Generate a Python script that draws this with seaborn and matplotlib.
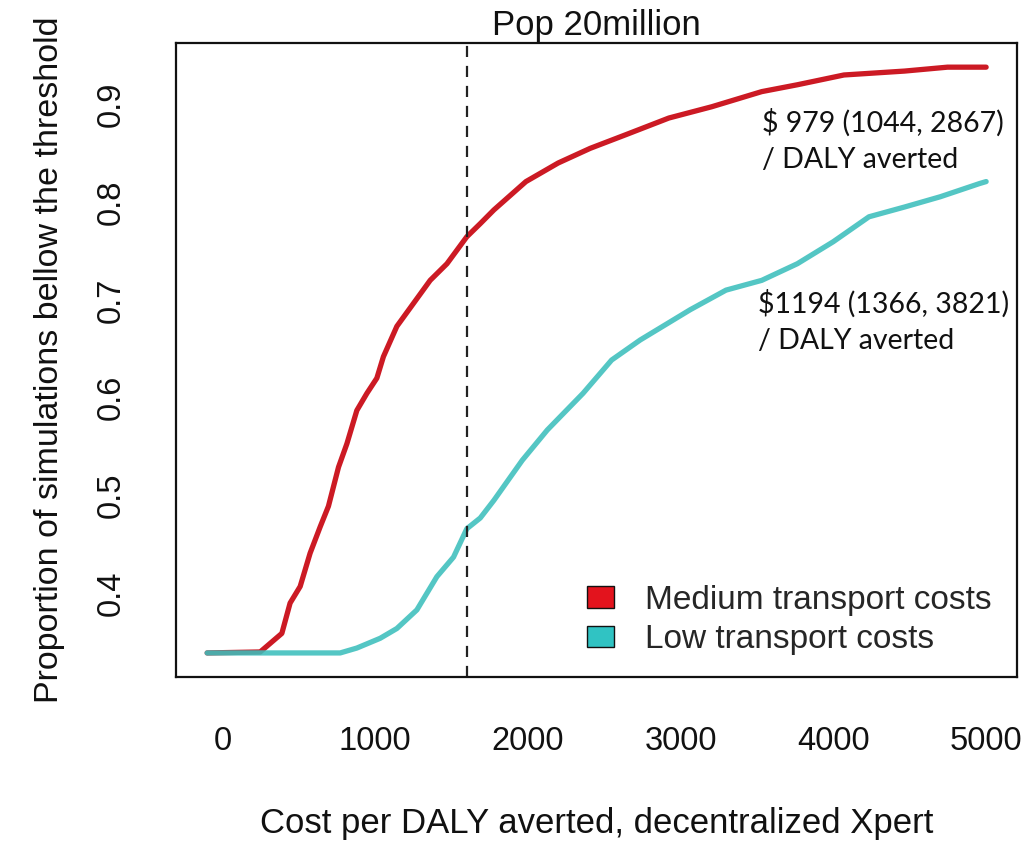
import matplotlib
matplotlib.use("Agg")
import matplotlib.pyplot as plt
from matplotlib.patches import Patch
import pandas as pd
import seaborn as sns

# Cost thresholds (USD per DALY averted) and proportion of simulations below each
cost_medium = [-100, 247, 389, 443, 509, 574, 640, 694, 760, 815, 880, 946, 1011,
               1054, 1142, 1251, 1360, 1470, 1600, 1688, 1777, 1987, 2198, 2408,
               2642, 2923, 3203, 3531, 3764, 4069, 4466, 4747, 5000]
prop_medium = [0.339, 0.340, 0.359, 0.390, 0.407, 0.441, 0.468, 0.489, 0.529,
               0.553, 0.587, 0.6045, 0.620, 0.642, 0.673, 0.6965, 0.720, 0.737,
               0.7646, 0.778, 0.792, 0.821, 0.840, 0.855, 0.869, 0.886, 0.8975,
               0.913, 0.920, 0.930, 0.934, 0.938, 0.938]

cost_low = [-100, 771, 880, 1033, 1142, 1273, 1404, 1513, 1600, 1688, 1777, 1963,
            2127, 2361, 2548, 2735, 3063, 3297, 3531, 3764, 3999, 4233, 4466,
            4700, 4957, 5000]
prop_low = [0.339, 0.339, 0.344, 0.354, 0.364, 0.383, 0.417, 0.437, 0.466, 0.477,
            0.495, 0.536, 0.567, 0.6045, 0.6385, 0.659, 0.690, 0.710, 0.720,
            0.737, 0.7595, 0.785, 0.795, 0.8055, 0.819, 0.821]

series_names = ["Medium transport costs", "Low transport costs"]
line_colors = ["#CC1A24", "#3CBFBC"]
legend_colors = ["#E3131D", "#30C3C3"]

threshold = 1600
x_ticks = [0, 1000, 2000, 3000, 4000, 5000]
y_ticks = [0.4, 0.5, 0.6, 0.7, 0.8, 0.9]

notes = ["$ 979 (1044, 2867)\n/ DALY averted", "$1194 (1366, 3821)\n/ DALY averted"]

df = pd.concat([
    pd.DataFrame({"cost": cost_medium, "prop": prop_medium, "scenario": series_names[0]}),
    pd.DataFrame({"cost": cost_low, "prop": prop_low, "scenario": series_names[1]}),
], ignore_index=True)

sns.set_style("white")
plt.rcParams["font.family"] = ["Liberation Sans", "DejaVu Sans"]

fig = plt.figure(figsize=(10.28, 8.43), dpi=100)
ax = fig.add_axes([176 / 1028, 1 - 676.7 / 843, (1017.3 - 176) / 1028, (676.7 - 43.3) / 843])

sns.lineplot(data=df[df.scenario == series_names[0]], x="cost", y="prop",
             color=line_colors[0], linewidth=3.8, ax=ax, legend=False,
             estimator=None, sort=False)
sns.lineplot(data=df[df.scenario == series_names[1]], x="cost", y="prop",
             color=line_colors[1], linewidth=3.8, alpha=0.88, ax=ax, legend=False,
             estimator=None, sort=False)

ax.axvline(threshold, color="#222222", linewidth=1.6, linestyle=(0, (5, 4)))

ax.set_xlim(-304, 5204)
ax.set_ylim(0.3147, 0.9624)
ax.set_xticks(x_ticks)
ax.set_xticklabels([str(v) for v in x_ticks])
ax.set_yticks(y_ticks)
ax.set_yticklabels([f"{v:.1f}" for v in y_ticks], rotation=90, va="center")

for side in ["left", "right", "top", "bottom"]:
    ax.spines[side].set_visible(True)
    ax.spines[side].set_color("#111111")
    ax.spines[side].set_linewidth(1.6)

ax.tick_params(axis="both", direction="out", length=15.5, width=1.2,
               color="#222222", labelsize=23.5, labelcolor="#111111")
ax.tick_params(axis="x", pad=20)
ax.tick_params(axis="y", pad=20)

ax.set_title("Pop 20million", fontsize=25, pad=6, color="#111111")
ax.set_xlabel("Cost per DALY averted, decentralized Xpert", fontsize=25,
              labelpad=36, color="#111111")
ax.set_ylabel("Proportion of simulations bellow the threshold", fontsize=24.5,
              labelpad=22, color="#111111")

# Annotations with the median and interval of cost per DALY averted
ax.text(0.697, 0.897, notes[0], transform=ax.transAxes, fontsize=20.5,
        family=["Lato", "DejaVu Sans"], color="#111111", va="top", ha="left",
        linespacing=1.5)
ax.text(0.692, 0.612, notes[1], transform=ax.transAxes, fontsize=20.5,
        family=["Lato", "DejaVu Sans"], color="#111111", va="top", ha="left",
        linespacing=1.5)

handles = [Patch(facecolor=legend_colors[i], edgecolor="#111111", linewidth=1.0)
           for i in range(2)]
ax.legend(handles, series_names, loc="upper left", bbox_to_anchor=(0.4885, 0.145),
          frameon=False, fontsize=24, handlelength=0.8, handleheight=0.62,
          handletextpad=0.95, labelspacing=0.25, borderpad=0, borderaxespad=0)

fig.savefig("out.png", dpi=100)
